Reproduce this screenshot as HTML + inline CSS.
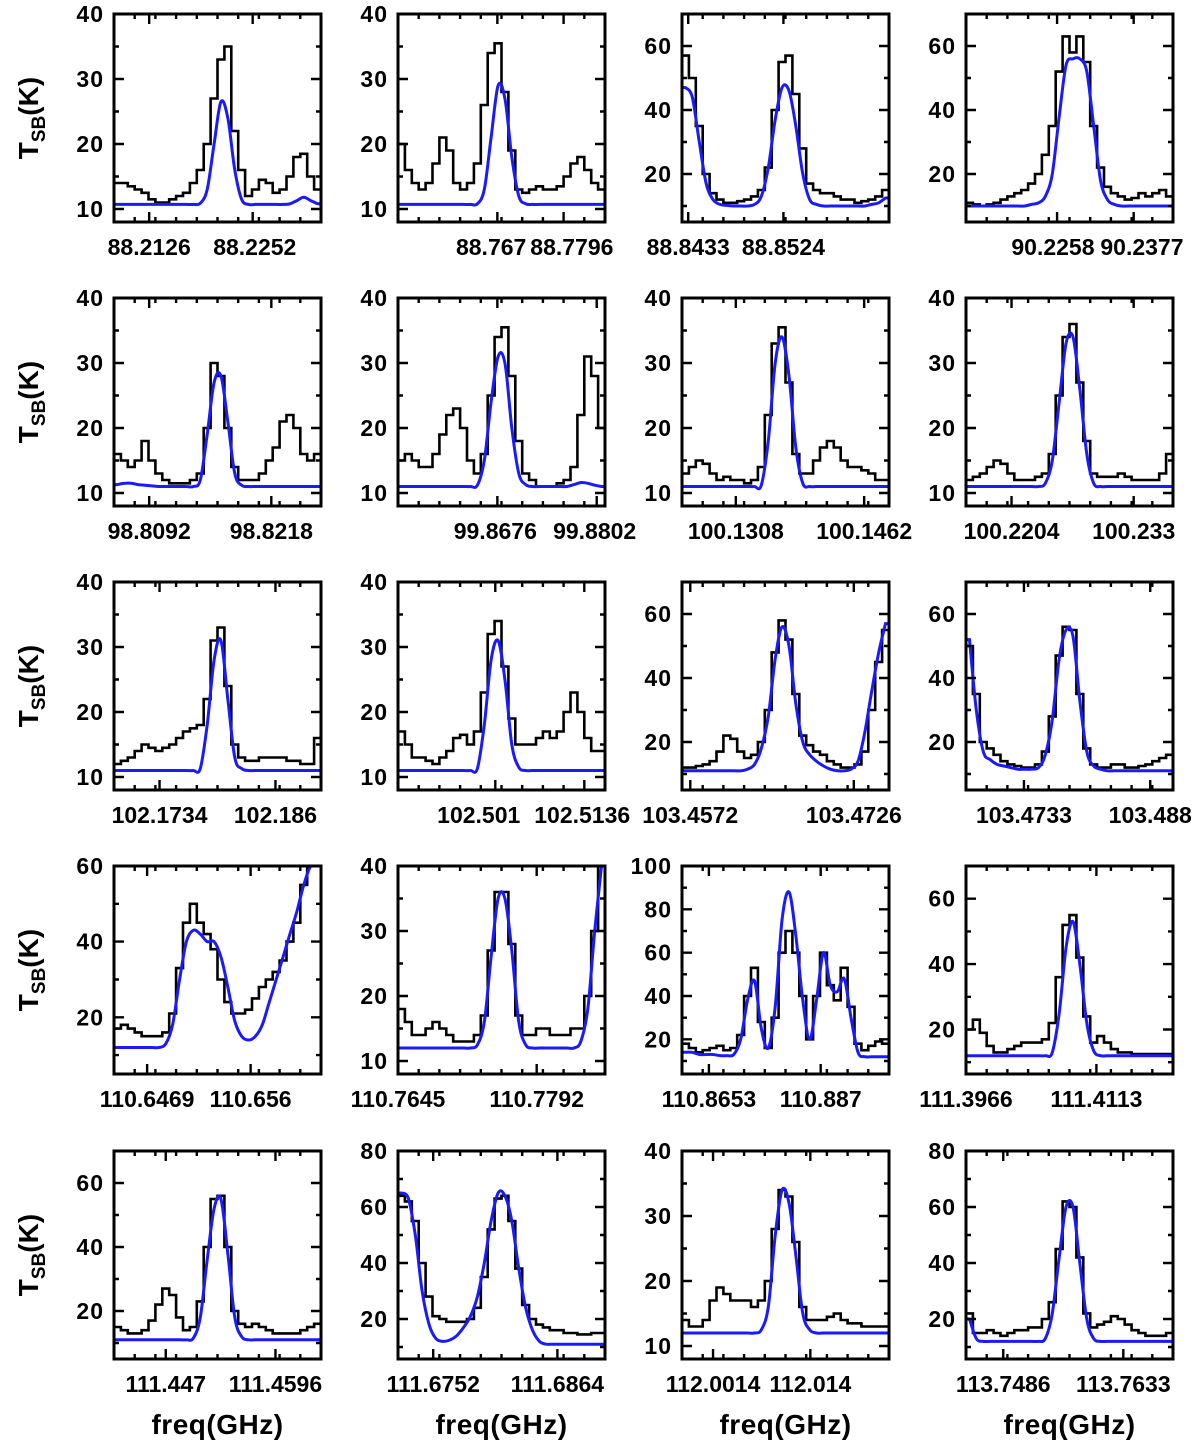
<!DOCTYPE html>
<html><head><meta charset="utf-8"><style>
html,body{margin:0;padding:0;background:#fff;}
svg{display:block;font-family:"Liberation Sans",sans-serif;}
</style></head><body>
<svg id="fig" width="1200" height="1446" viewBox="0 0 1200 1446"></svg>
<script>
// ---- data ----
const yRanges = [
 [8,40],[8,40],[5,70],[5,70],
 [8,40],[8,40],[8,40],[8,40],
 [8,40],[8,40],[5,70],[5,70],
 [5,60],[8,40],[4,100],[6.4,70],
 [5,70],[5.7,80],[8,40],[5.7,80]
];
const yTickValues = [
 [10,20,30,40],[10,20,30,40],[20,40,60],[20,40,60],
 [10,20,30,40],[10,20,30,40],[10,20,30,40],[10,20,30,40],
 [10,20,30,40],[10,20,30,40],[20,40,60],[20,40,60],
 [20,40,60],[10,20,30,40],[20,40,60,80,100],[20,40,60],
 [20,40,60],[20,40,60,80],[10,20,30,40],[20,40,60,80]
];
const xTickLabels = [
 ["88.2126","88.2252"],["88.767","88.7796"],["88.8433","88.8524"],["90.2258","90.2377"],
 ["98.8092","98.8218"],["99.8676","99.8802"],["100.1308","100.1462"],["100.2204","100.233"],
 ["102.1734","102.186"],["102.501","102.5136"],["103.4572","103.4726"],["103.4733","103.488"],
 ["110.6469","110.656"],["110.7645","110.7792"],["110.8653","110.887"],["111.3966","111.4113"],
 ["111.447","111.4596"],["111.6752","111.6864"],["112.0014","112.014"],["113.7486","113.7633"]
];
const xTickFrac = [
 [0.17,0.67],[0.48,0.80],[0.03,0.49],[0.44,0.81],
 [0.17,0.76],[0.48,0.96],[0.26,0.88],[0.22,0.81],
 [0.22,0.78],[0.47,0.90],[0.04,0.83],[0.28,0.89],
 [0.16,0.66],[0.0,0.67],[0.13,0.67],[0.0,0.63],
 [0.25,0.78],[0.17,0.77],[0.15,0.62],[0.18,0.76]
];
const xLabelFrac = [
 [0.17,0.68],[0.45,0.84],[0.03,0.49],[0.42,0.85],
 [0.17,0.76],[0.47,0.95],[0.26,0.88],[0.22,0.81],
 [0.22,0.78],[0.39,0.89],[0.04,0.83],[0.28,0.89],
 [0.16,0.66],[0.0,0.67],[0.13,0.67],[0.0,0.63],
 [0.25,0.78],[0.17,0.77],[0.15,0.62],[0.18,0.76]
];
const observed = [
 [14,14,13.5,13,12.5,11.5,11,11,11.5,12,12.5,14,16,20,27,33,35,22,16,12,13,14.5,14,12.5,13,15,18,18.5,15,13],
 [20,16,14,13,14,17,21,19,14,13,14,17,26,34,35.5,28,19,13,12.5,13,13.5,13,13,13.5,15,17,18,16,14,13],
 [57,50,35,20,14,12,11,11,11.5,12,13,15,22,40,55,57,45,28,17,15,14,14,13,12,12,11,11.5,12,13,15],
 [11,10.5,10,10.5,11,12,13,14,15,17,20,26,35,52,63,58,63,55,35,22,16,14,13,12,12.5,14,13,14,15,13],
 [16,15,14,15,18,15,13,12,11.5,11.5,11.5,12,13,20,30,28,20,14,12,12,12,13,15,17,21,22,20,16,15,16],
 [15,16,15,14,14,16,19,22,23,20,15,13,16,25,34,35.5,28,18,13,12,11,11,11,11.5,12,14,22,31,28,20],
 [13,14,15,14.5,13,12,12.5,12,12,11.5,12,14,22,33,35.5,27,16,13,13,15,17,18,17,15,14,14,13.5,13,12,12],
 [12,12.5,13,14,15,14.5,13,12,12,12,12.5,13,16,25,34,36,27,18,13,12.5,12.5,12.5,13,12.5,12,12,12,12,13,16],
 [12,12.5,13,14,15,14.5,14,14.5,15,16,17,17.5,18,22,31,33,24,15,13,12.5,12.5,13,13,13,13,12.5,12.5,12,12,16],
 [17,15,13,13,12.5,12,13,14,16,16.5,15,17,23,32,34,27,19,15,15,15,16,17,16,17,20,23,20,16,14,14],
 [12,12,12.5,13,14,17,22,21,17,15,16,20,30,48,58,52,35,22,19,17,16,14,13,12,12,13,17,30,45,55],
 [50,35,20,18,16,14,13,12.5,12,12,13,17,28,47,56,55,35,18,13,12,12,13,13,12,12,12.5,13,14,15,16],
 [17,18,17,16,15,15,15,16,21,33,45,50,45,42,38,30,24,21,21,22,25,28,30,32,35,40,45,55,60,62],
 [18,16,14,14,15,16,15,14,13,13,13,14,17,27,36,36,28,17,14,14,15,15,14,14,14,15,15,20,30,45],
 [18,16,14,15,16,17,15,16,22,40,53,28,16,30,60,70,60,40,20,40,60,45,38,53,35,18,15,17,19,18],
 [20,23,19,15,13,13,14,15,16,16,16,17,22,36,52,55,42,24,16,18,16,14,13,13,12.5,12.5,12.5,12.5,12.5,12.5],
 [15,14,13,13,14,17,22,27,25,18,14,15,23,40,55,56,40,20,16,15,16,15,14,13,13,13,13,14,15,16],
 [64,62,55,40,28,21,20,19,19,19,20,24,35,52,63,64,55,38,25,20,18,17,16,16,15,15,14.5,14.5,15,15],
 [14,13,13,14,17,19,18,17,17,17,16,17,20,28,34,33,26,16,14,14,14,14.5,15,14,13.5,13.5,13,13,13,13],
 [22,15,15,16,15,14,15,16,16,17,17,20,26,45,62,60,42,22,17,18,19,21,20,18,16,15,14,14,14,15]
];
const model = [
 [10.7,10.7,10.7,10.7,10.7,10.7,10.7,10.7,10.7,10.7,10.7,10.7,10.9,13,20,26.5,24,16,11.5,10.7,10.7,10.7,10.7,10.7,10.7,10.8,11.3,11.8,11.3,10.8],
 [10.7,10.7,10.7,10.7,10.7,10.7,10.7,10.7,10.7,10.7,10.7,10.8,13,21,29,27,18,12,10.8,10.7,10.7,10.7,10.7,10.7,10.7,10.7,10.7,10.7,10.7,10.7],
 [47,44,30,17,12,10.5,10.2,10,10,10,10.5,13,22,37,47,46,35,20,12,10.5,10,10,10,10,10,10,10,10.5,11,12.5],
 [10,10,10,10,10,10,10,10,10,10.5,11,13,20,38,54,56,56,52,35,18,12,10.5,10,10,10,10,10,10,10,10],
 [11.3,11.5,11.5,11.3,11.2,11.1,11,11,11,11,11,11,12,19,27,28,21,13,11.2,11,11,11,11,11,11,11,11,11,11,11],
 [11,11,11,11,11,11,11,11,11,11,11,11.2,15,24,31,30,20,13,11.3,11,11,11,11,11,11,11.3,11.6,11.5,11.2,11],
 [11,11,11,11,11,11,11,11,11,11,11,11.2,18,30,34,28,17,11.5,11,11,11,11,11,11,11,11,11,11,11,11],
 [11,11,11,11,11,11,11,11,11,11,11,11.5,15,24,33,34,26,16,11.5,11,11,11,11,11,11,11,11,11,11,11],
 [11,11,11,11,11,11,11,11,11,11,11,11,11.3,18,28,31,22,13,11.3,11,11,11,11,11,11,11,11,11,11,11],
 [11,11,11,11,11,11,11,11,11,11,11,11.3,18,28,31,25,15,11.5,11,11,11,11,11,11,11,11,11,11,11,11],
 [11,11,11,11,11,11,11,11,11,11.5,13,18,28,46,56,50,32,20,16,14,12.5,11.5,11,11,11.5,14,23,36,48,57],
 [52,30,17,14.5,13,12.5,12,11.5,11.5,11.5,12,16,27,46,55,53,33,17,12.5,11.5,11,11,11,11,11,11,11,11,11,11],
 [12,12,12,12,12,12,12,13,18,30,40,43,42,40,40,36,28,19,15,14,15,18,24,30,36,42,48,55,62,70],
 [12,12,12,12,12,12,12,12,12,12,12,12.5,16,26,35,35,27,16,12.5,12,12,12,12,12,12,12,13,18,30,50],
 [14,14,13,13,13,12.5,12.5,13,20,38,47,25,16,35,75,88,68,38,20,38,60,45,42,48,30,14,12,12,12,12],
 [12,12,12,12,12,12,12,12,12,12,12,12,13,25,45,53,40,22,13.5,12,12,12,12,12,12,12,12,12,12,12],
 [11,11,11,11,11,11,11,11,11,11,11,11.5,18,36,52,55,38,18,12,11,11,11,11,11,11,11,11,11,11,11],
 [65,63,50,30,18,13,12,12.5,14,17,21,28,40,55,65,64,55,38,24,16,12,11,11,11,11,11,11,11,11,11],
 [12,12,12,12,12,12,12,12,12,12,12,12.5,16,27,34,32,24,15,12.5,12,12,12,12,12,12,12,12,12,12,12],
 [20,13,12,12,12,12,12,12,12,12,12,13,22,42,60,60,40,20,13,12,12,12,12,12,12,12,12,12,12,12]
];
// ---- layout ----
const colX = [114,398,682,966];
const rowY = [14,298,582,866,1151];
const PW = 207, PH = 208;
const NS = "http://www.w3.org/2000/svg";
const svg = document.getElementById('fig');
function mk(tag, attrs, parent){
  const e = document.createElementNS(NS, tag);
  for (const k in attrs) e.setAttribute(k, attrs[k]);
  (parent||svg).appendChild(e);
  return e;
}
for (let p = 0; p < 20; p++){
  const r = Math.floor(p/4), c = p%4;
  const x0 = colX[c], y0 = rowY[r];
  const g = mk('g', {});
  
  
  const [ymin, ymax] = yRanges[p];
  const sy = v => y0 + PH - (Math.min(Math.max(v,ymin),ymax) - ymin) / (ymax - ymin) * PH;
  const obs = observed[p], mod = model[p];
  const n = obs.length;
  const sx = i => x0 + i / n * PW;
  const cid = 'clip' + p;
  const cp = mk('clipPath', {id: cid}, g);
  mk('rect', {x: x0, y: y0, width: PW, height: PH}, cp);
  let d = '';
  for (let i = 0; i < n; i++){
    const yy = sy(obs[i]);
    d += (i === 0 ? 'M' : 'L') + sx(i).toFixed(1) + ',' + yy.toFixed(1) + 'L' + sx(i+1).toFixed(1) + ',' + yy.toFixed(1);
  }
  const po = mk('path', {d: d, fill: 'none', stroke: '#000', 'stroke-width': 2.6, 'clip-path': 'url(#' + cid + ')'}, g);
  
  
  let pts = [];
  for (let i = 0; i < n; i++) pts.push([(sx(i) + sx(i+1)) / 2, sy(mod[i])]);
  let dm = 'M' + x0 + ',' + pts[0][1].toFixed(1) + 'L' + pts[0][0].toFixed(1) + ',' + pts[0][1].toFixed(1);
  for (let i = 0; i < n - 1; i++){
    const p0 = pts[Math.max(i-1,0)], p1 = pts[i], p2 = pts[i+1], p3 = pts[Math.min(i+2,n-1)];
    const c1x = p1[0] + (p2[0]-p0[0])/6, c1y = p1[1] + (p2[1]-p0[1])/6;
    const c2x = p2[0] - (p3[0]-p1[0])/6, c2y = p2[1] - (p3[1]-p1[1])/6;
    dm += 'C' + c1x.toFixed(1) + ',' + c1y.toFixed(1) + ' ' + c2x.toFixed(1) + ',' + c2y.toFixed(1) + ' ' + p2[0].toFixed(1) + ',' + p2[1].toFixed(1);
  }
  dm += 'L' + (x0 + PW) + ',' + pts[n-1][1].toFixed(1);
  const pm = mk('path', {d: dm, fill: 'none', stroke: '#1a1aff', 'stroke-width': 3, 'clip-path': 'url(#' + cid + ')'}, g);
  
  
  let td = '';
  for (let k = 1; k < 10; k++){
    const tx = x0 + k * PW / 10;
    td += 'M' + tx + ',' + (y0+PH) + 'v-5M' + tx + ',' + y0 + 'v5';
  }
  xTickFrac[p].forEach(f => {
    const tx = x0 + f * PW;
    td += 'M' + tx + ',' + (y0+PH) + 'v-10M' + tx + ',' + y0 + 'v10';
  });
  const yt = yTickValues[p];
  const step = yt[1] - yt[0];
  for (let v = yt[0] - step; v <= ymax; v += step/2){
    if (v < ymin) continue;
    const major = Math.abs(((v - yt[0]) / step) - Math.round((v - yt[0]) / step)) < 1e-6;
    const L = major ? 10 : 5;
    const ty = sy(v);
    td += 'M' + x0 + ',' + ty.toFixed(1) + 'h' + L + 'M' + (x0+PW) + ',' + ty.toFixed(1) + 'h-' + L;
  }
  mk('path', {d: td, stroke: '#000', 'stroke-width': 2.4, fill: 'none'}, g);
  const frame = mk('rect', {x: x0, y: y0, width: PW, height: PH, fill: 'none', stroke: '#000', 'stroke-width': 3}, g);
  
  
  yt.forEach(v => {
    const t = mk('text', {x: x0 - 10, y: sy(v) + 8, 'text-anchor': 'end', 'font-size': 23, 'font-weight': 'bold', 'letter-spacing': 1}, g);
    t.textContent = v;
    
    
  });
  xTickLabels[p].forEach((lab, k) => {
    const t = mk('text', {x: x0 + xLabelFrac[p][k] * PW, y: y0 + PH + 33, 'text-anchor': 'middle', 'font-size': 23, 'font-weight': 'bold'}, g);
    t.textContent = lab;
    
    
  });
}
for (let r = 0; r < 5; r++){
  const cy = rowY[r] + PH/2;
  const t = mk('text', {x: 0, y: 0, transform: 'translate(38,' + cy + ') rotate(-90)', 'text-anchor': 'middle', 'font-size': 28, 'font-weight': 'bold'});
  
  
  t.innerHTML = 'T<tspan font-size="19" dy="7">SB</tspan><tspan dy="-7">(K)</tspan>';
}
for (let c = 0; c < 4; c++){
  const t = mk('text', {x: colX[c] + PW/2, y: 1434, 'text-anchor': 'middle', 'font-size': 28, 'font-weight': 'bold', 'letter-spacing': 0.5});
  t.textContent = 'freq(GHz)';
  
  
}
</script>
</body></html>
